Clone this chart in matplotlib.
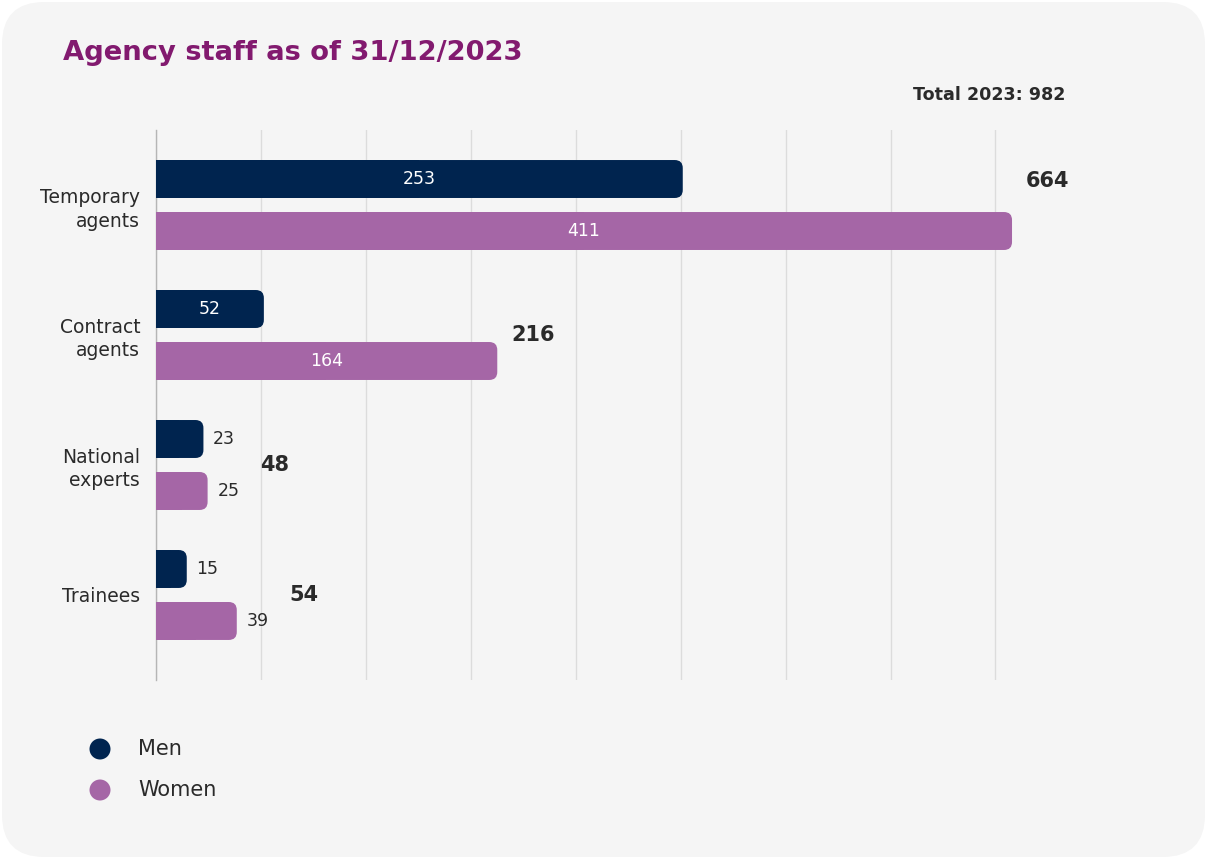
import matplotlib.pyplot as plt
import numpy as np
from matplotlib.patches import FancyBboxPatch, Ellipse

# data
categories = ["Temporary\nagents", "Contract\nagents", "National\nexperts", "Trainees"]
men = [253, 52, 23, 15]
women = [411, 164, 25, 39]
totals = [664, 216, 48, 54]
series_names = ["Men", "Women"]
title = "Agency staff as of 31/12/2023"
total_text = "Total 2023: 982"

MEN_COL = "#00244f"
WOMEN_COL = "#a566a6"
TXT = "#2a2a2a"
BG = "#f5f5f5"

W, H = 1207, 859
fig = plt.figure(figsize=(W / 100, H / 100), dpi=100)
fig.patch.set_facecolor("white")

# rounded card background
card = FancyBboxPatch((2 / W, 2 / H), 1 - 4 / W, 1 - 4 / H,
                      boxstyle="round,pad=0,rounding_size=0.035",
                      mutation_aspect=W / H,
                      transform=fig.transFigure, facecolor=BG, edgecolor="none",
                      zorder=-10)
fig.patches.append(card)

# axes in pixel terms: left 155, right 1100, top 130, bottom 680
ax = fig.add_axes([155.5 / W, 1 - 680 / H, (1100 - 155.5) / W, (680 - 130) / H])
ax.set_facecolor("none")

# px per data unit
sx = 2.084
sy = 130.0

y = np.arange(len(categories))
h = 0.292
off = 0.2
xmax = (1100 - 155.5) / sx
ax.set_xlim(0, xmax)
ax.set_ylim(3 + 0.654, -0.577)

bars_m = ax.barh(y - off, men, height=h, color=MEN_COL)
bars_w = ax.barh(y + off, women, height=h, color=WOMEN_COL)

r = 8 / sx
for bars in (bars_m, bars_w):
    for b in bars:
        b.set_visible(False)
        x0, y0 = b.get_x(), b.get_y()
        bw, bh = b.get_width(), b.get_height()
        p = FancyBboxPatch((x0, y0), bw, bh,
                           boxstyle=f"round,pad=0,rounding_size={r}",
                           mutation_aspect=sx / sy,
                           facecolor=b.get_facecolor(), edgecolor="none", zorder=3)
        ax.add_patch(p)
        # square off the left end at the axis
        ax.add_patch(plt.Rectangle((x0, y0), bw / 2, bh,
                                   facecolor=b.get_facecolor(), edgecolor="none", zorder=3))

# value labels
for vals, yy in ((men, y - off), (women, y + off)):
    for v, yc in zip(vals, yy):
        if v > 45:
            ax.text(v / 2, yc, str(v), ha="center", va="center",
                    color="white", fontsize=12.5, zorder=4)
        else:
            ax.annotate(str(v), (v, yc), xytext=(7, 0), textcoords="offset points",
                        ha="left", va="center", color=TXT, fontsize=12.5, zorder=4)

# totals
total_dy = [17, 0, 0, 0]
for i, t in enumerate(totals):
    m = max(men[i], women[i])
    pad = 10 if m > 45 else 38
    ax.annotate(str(t), (m, y[i]), xytext=(pad, total_dy[i]), textcoords="offset points",
                ha="left", va="center", color=TXT, fontsize=15, fontweight="bold", zorder=4)

# gridlines are evenly spaced at 105 px in the source
ax.set_xticks(np.arange(9) * 105 / sx)
ax.xaxis.grid(True, color="#dcdcdc", lw=1)
ax.set_axisbelow(True)
ax.tick_params(axis="x", length=0, labelbottom=False)
ax.tick_params(axis="y", length=0, pad=11)
ax.set_yticks(y)
ax.set_yticklabels(categories, fontsize=13.5, color=TXT, ha="right", linespacing=1.3)
for s in ("top", "right", "bottom"):
    ax.spines[s].set_visible(False)
ax.spines["left"].set_color("#b5b5b5")
ax.spines["left"].set_linewidth(1)

fig.text(63 / W, 1 - 53 / H, title, ha="left", va="center", fontsize=19.7,
         fontweight="heavy", color="#821a6f")
fig.text(1065 / W, 1 - 95 / H, total_text, ha="right", va="center", fontsize=12.6,
         fontweight="bold", color=TXT)

# legend
for i, (name, col) in enumerate(zip(series_names, [MEN_COL, WOMEN_COL])):
    yy = 1 - (749 + 41 * i) / H
    fig.add_artist(Ellipse((100 / W, yy), 21 / W, 21 / H, transform=fig.transFigure,
                           facecolor=col, edgecolor="none"))
    fig.text(138 / W, yy, name, ha="left", va="center", fontsize=15, color=TXT)

fig.savefig("out.png", dpi=100, facecolor=fig.get_facecolor())
